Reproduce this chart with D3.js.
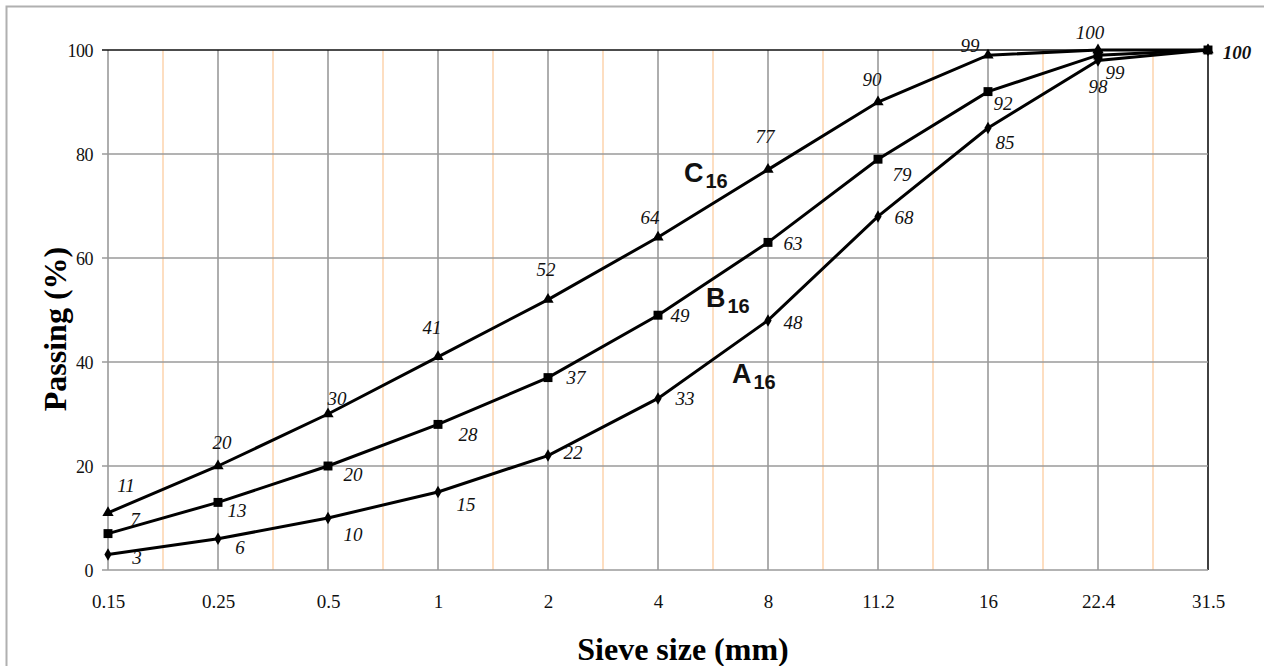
<!DOCTYPE html>
<html>
<head>
<meta charset="utf-8">
<script src="https://cdn.jsdelivr.net/npm/d3@7"></script>
<style>
  body { margin: 0; background: #fff; }
</style>
</head>
<body>
<div id="chart"></div>
<script>
var width = 1264;
var height = 666;
var SERIF = "Liberation Serif, Times New Roman, serif";
var SANS = "Liberation Sans, Arial, sans-serif";

// sieve sizes and passing percentages
var sieves = ["0.15", "0.25", "0.5", "1", "2", "4", "8", "11.2", "16", "22.4", "31.5"];
var gradeA = [3, 6, 10, 15, 22, 33, 48, 68, 85, 98, 100];
var gradeB = [7, 13, 20, 28, 37, 49, 63, 79, 92, 99, 100];
var gradeC = [11, 20, 30, 41, 52, 64, 77, 90, 99, 100, 100];
var yTicks = [0, 20, 40, 60, 80, 100];

// label offsets next to each point (dx, dy), null = no label
var offA = [[29,3],[22,9],[25,16],[28,12],[25,-3],[27,0],[25,2],[26,1],[17,14],[0,26],null];
var offB = [[27,-14],[19,8],[25,8],[30,10],[28,0],[22,0],[25,1],[24,15],[15,12],[17,17],null];
var offC = [[18,-27],[4,-24],[9,-16],[-6,-29],[-2,-30],[-8,-20],[-3,-33],[-6,-23],[-18,-10],[-8,-18],[29,2]];

var svg = d3.select("#chart")
    .append("svg")
    .attr("width", width)
    .attr("height", height);

// outer frame
svg.append("rect")
    .attr("x", 6.5).attr("y", 6.5)
    .attr("width", width).attr("height", height)
    .attr("fill", "none")
    .attr("stroke", "#b0b0b0")
    .attr("stroke-width", 2);

var x = d3.scalePoint().domain(sieves).range([108, 1208]);
var y = d3.scaleLinear().domain([0, 100]).range([570, 50]);
var step = x.step();

// orange mid lines
svg.selectAll(".mid")
    .data(sieves.slice(0, -1))
    .enter().append("line")
    .attr("x1", function(d){ return x(d) + step / 2; })
    .attr("x2", function(d){ return x(d) + step / 2; })
    .attr("y1", y(0)).attr("y2", y(100))
    .attr("stroke", "#fdd3ad")
    .attr("stroke-width", 1.5);

// vertical grid
svg.selectAll(".vgrid")
    .data(sieves)
    .enter().append("line")
    .attr("x1", function(d){ return x(d); })
    .attr("x2", function(d){ return x(d); })
    .attr("y1", y(0)).attr("y2", y(100))
    .attr("stroke", function(d, i){ return i == sieves.length - 1 ? "#111" : "#9a9a9a"; })
    .attr("stroke-width", 1.6);

// horizontal grid
svg.selectAll(".hgrid")
    .data(yTicks)
    .enter().append("line")
    .attr("x1", 102).attr("x2", 1208)
    .attr("y1", function(d){ return y(d); })
    .attr("y2", function(d){ return y(d); })
    .attr("stroke", function(d){ return d == 100 ? "#111" : "#9a9a9a"; })
    .attr("stroke-width", 1.6);

// axis tick labels
var yAxis = d3.axisLeft(y).tickValues(yTicks).tickSize(0).tickPadding(0);
var gy = svg.append("g").attr("transform", "translate(93,0)").call(yAxis);
gy.select(".domain").remove();
gy.selectAll("text")
    .attr("font-size", 18)
    .attr("font-family", SERIF)
    .attr("letter-spacing", -0.5)
    .attr("fill", "#111")
    .attr("dy", "0.35em");

var xAxis = d3.axisBottom(x).tickSize(0).tickPadding(0);
var gx = svg.append("g").attr("transform", "translate(0,594)").call(xAxis);
gx.select(".domain").remove();
gx.selectAll("text")
    .attr("font-size", 19)
    .attr("font-family", SERIF)
    .attr("fill", "#111");

// titles
svg.append("text")
    .attr("x", 683).attr("y", 660)
    .attr("text-anchor", "middle")
    .attr("font-family", SERIF)
    .attr("font-size", 32)
    .attr("font-weight", "bold")
    .text("Sieve size (mm)");

svg.append("text")
    .attr("transform", "translate(66,329) rotate(-90)")
    .attr("text-anchor", "middle")
    .attr("font-family", SERIF)
    .attr("font-size", 32)
    .attr("font-weight", "bold")
    .text("Passing (%)");

var line = d3.line()
    .x(function(d, i){ return x(sieves[i]); })
    .y(function(d){ return y(d); });

var series = [
    { vals: gradeA, offs: offA, shape: d3.symbolDiamond, size: 45 },
    { vals: gradeB, offs: offB, shape: d3.symbolSquare, size: 80 },
    { vals: gradeC, offs: offC, shape: d3.symbolTriangle, size: 55 }
];

series.forEach(function(s){
    svg.append("path")
        .datum(s.vals)
        .attr("d", line)
        .attr("fill", "none")
        .attr("stroke", "#000")
        .attr("stroke-width", 3);

    svg.selectAll(null)
        .data(s.vals)
        .enter().append("path")
        .attr("d", d3.symbol().type(s.shape).size(s.size))
        .attr("transform", function(d, i){ return "translate(" + x(sieves[i]) + "," + y(d) + ")"; })
        .attr("fill", "#000");

    svg.selectAll(null)
        .data(s.vals)
        .enter().filter(function(d, i){ return s.offs[i] != null; })
        .append("text")
        .attr("x", function(d, i){ return x(sieves[i]) + s.offs[i][0]; })
        .attr("y", function(d, i){ return y(d) + s.offs[i][1]; })
        .attr("dy", "0.35em")
        .attr("text-anchor", "middle")
        .attr("font-family", SERIF)
        .attr("font-size", 19)
        .attr("font-style", "italic")
        .attr("font-weight", function(d, i){ return i == 10 ? "bold" : "normal"; })
        .attr("fill", "#111")
        .text(function(d){ return d; });
});

// curve names
var names = [
    { letter: "C", x: 684, y: 182 },
    { letter: "B", x: 706, y: 307 },
    { letter: "A", x: 732, y: 383 }
];
names.forEach(function(n){
    var t = svg.append("text")
        .attr("x", n.x).attr("y", n.y)
        .attr("font-family", SANS)
        .attr("font-weight", "bold")
        .attr("font-size", 27)
        .attr("fill", "#111");
    t.append("tspan").text(n.letter);
    t.append("tspan").attr("font-size", 20).attr("dx", 2).attr("dy", 6).text("16");
});
</script>
</body>
</html>
